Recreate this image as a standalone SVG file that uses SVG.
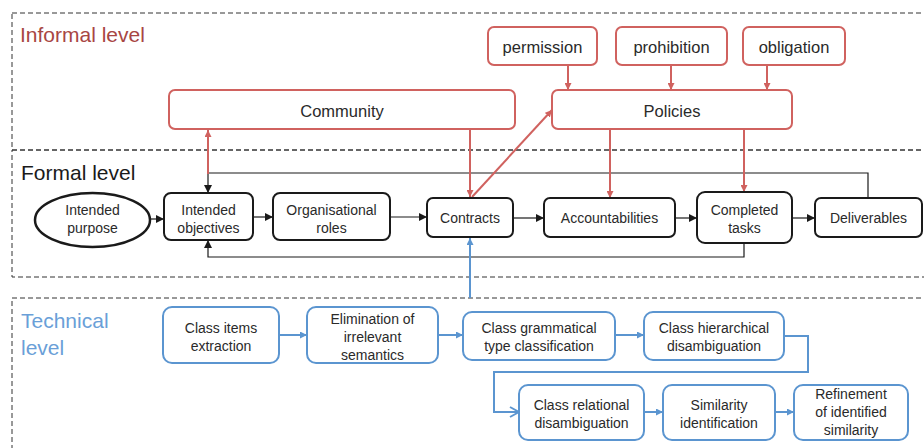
<svg xmlns="http://www.w3.org/2000/svg" width="924" height="448" viewBox="0 0 924 448">
<defs>
<style>
.t{font-family:"Liberation Sans",Arial,sans-serif;font-size:14px;fill:#2a2a2a;text-anchor:middle}
.ti{font-family:"Liberation Sans",Arial,sans-serif;font-size:16.5px;fill:#2a2a2a;text-anchor:middle}
.title{font-family:"Liberation Sans",Arial,sans-serif;font-size:21px}
.dash{fill:none;stroke:#333;stroke-width:1;stroke-dasharray:5,3}
.rb{fill:#fff;stroke:#d0625f;stroke-width:2}
.bb{fill:#fff;stroke:#1a1a1a;stroke-width:2}
.ub{fill:#fff;stroke:#5b95d0;stroke-width:2}
.rl{fill:none;stroke:#d0625f;stroke-width:2}
.kl{fill:none;stroke:#1a1a1a;stroke-width:1.2}
.ul{fill:none;stroke:#5b95d0;stroke-width:2}
</style>
<marker id="ak" viewBox="0 0 10 10" refX="10" refY="5" markerWidth="8" markerHeight="8" markerUnits="userSpaceOnUse" orient="auto-start-reverse"><path d="M0,0 L10,5 L0,10 z" fill="#1a1a1a"/></marker>
<marker id="ar" viewBox="0 0 10 10" refX="10" refY="5" markerWidth="7" markerHeight="7" markerUnits="userSpaceOnUse" orient="auto-start-reverse"><path d="M0,0 L10,5 L0,10 z" fill="#d0625f"/></marker>
<marker id="au" viewBox="0 0 10 10" refX="10" refY="5" markerWidth="7" markerHeight="7" markerUnits="userSpaceOnUse" orient="auto-start-reverse"><path d="M0,0 L10,5 L0,10 z" fill="#5b95d0"/></marker>
<marker id="av" viewBox="0 0 12 12" refX="11" refY="6" markerWidth="12" markerHeight="12" markerUnits="userSpaceOnUse" orient="auto"><path d="M2,1 L11,6 L2,11" fill="none" stroke="#5b95d0" stroke-width="2"/></marker>
</defs>
<rect width="924" height="448" fill="#fff"/>

<g id="levels">
<rect class="dash" x="12" y="13" width="930" height="137"/>
<rect class="dash" x="12" y="150" width="930" height="127"/>
<rect class="dash" x="12" y="298" width="930" height="170"/>
<text class="title" x="20" y="42" fill="#a84643" font-size="22.2">Informal level</text>
<text class="title" x="21" y="180" fill="#1a1a1a">Formal level</text>
<text class="title" x="21" y="328" fill="#6a9fd8">Technical</text>
<text class="title" x="21" y="355" fill="#6a9fd8">level</text>
</g>

<g id="connectors">
<line class="kl" x1="150" y1="219" x2="164" y2="219" marker-end="url(#ak)"/>
<line class="kl" x1="253" y1="217" x2="273" y2="217" marker-end="url(#ak)"/>
<line class="kl" x1="390" y1="217" x2="427" y2="217" marker-end="url(#ak)"/>
<line class="kl" x1="513" y1="218" x2="544" y2="218" marker-end="url(#ak)"/>
<line class="kl" x1="675" y1="218" x2="697" y2="218" marker-end="url(#ak)"/>
<line class="kl" x1="792" y1="218" x2="815" y2="218" marker-end="url(#ak)"/>
<polyline class="kl" points="868,198 868,173 208,173 208,193" marker-end="url(#ak)"/>
<polyline class="kl" points="744,243 744,257 208,257 208,240" marker-end="url(#ak)"/>
<line class="rl" x1="208" y1="130" x2="208" y2="174" marker-start="url(#ar)"/>
<line class="rl" x1="470" y1="130" x2="470" y2="197" marker-end="url(#ar)"/>
<line class="rl" x1="472" y1="197" x2="552" y2="110" marker-end="url(#ar)"/>
<line class="rl" x1="568" y1="65" x2="568" y2="90" marker-end="url(#ar)"/>
<line class="rl" x1="671" y1="65" x2="671" y2="90" marker-end="url(#ar)"/>
<line class="rl" x1="767" y1="65" x2="767" y2="90" marker-end="url(#ar)"/>
<line class="rl" x1="610" y1="130" x2="610" y2="198" marker-end="url(#ar)"/>
<line class="rl" x1="744" y1="130" x2="744" y2="192" marker-end="url(#ar)"/>
<line class="ul" x1="470" y1="298" x2="470" y2="238" marker-end="url(#au)"/>
<line class="ul" x1="279" y1="335" x2="307" y2="335" marker-end="url(#au)"/>
<line class="ul" x1="438" y1="335" x2="463" y2="335" marker-end="url(#au)"/>
<line class="ul" x1="615" y1="335" x2="644" y2="335" marker-end="url(#au)"/>
<polyline class="ul" points="784,336 808,336 808,372 494,372 494,412 519,412" marker-end="url(#av)"/>
<line class="ul" x1="644" y1="412" x2="663" y2="412" marker-end="url(#au)"/>
<line class="ul" x1="775" y1="412" x2="794" y2="412" marker-end="url(#au)"/>
</g>

<g id="community"><rect class="rb" x="169" y="90" width="346" height="39" rx="6"/><text class="ti" x="342" y="116.5">Community</text></g>
<g id="policies"><rect class="rb" x="552" y="90" width="240" height="39" rx="6"/><text class="ti" x="672" y="116.5">Policies</text></g>
<g id="permission"><rect class="rb" x="488" y="27" width="109" height="38" rx="6"/><text class="ti" x="542.5" y="52.5">permission</text></g>
<g id="prohibition"><rect class="rb" x="616" y="27" width="111" height="38" rx="6"/><text class="ti" x="671.5" y="52.5">prohibition</text></g>
<g id="obligation"><rect class="rb" x="743" y="27" width="102" height="38" rx="6"/><text class="ti" x="794" y="52.5">obligation</text></g>

<g id="intended-purpose"><ellipse cx="92.5" cy="220" rx="57.5" ry="27" fill="#fff" stroke="#1a1a1a" stroke-width="2.5"/><text class="t" x="92.5" y="215">Intended</text><text class="t" x="92.5" y="233">purpose</text></g>
<g id="intended-objectives"><rect class="bb" x="164" y="193" width="89" height="47" rx="7"/><text class="t" x="208.5" y="215">Intended</text><text class="t" x="208.5" y="233">objectives</text></g>
<g id="organisational-roles"><rect class="bb" x="273" y="193" width="117" height="47" rx="7"/><text class="t" x="331.5" y="215">Organisational</text><text class="t" x="331.5" y="233">roles</text></g>
<g id="contracts"><rect class="bb" x="427" y="198" width="86" height="39" rx="6"/><text class="t" x="470" y="223">Contracts</text></g>
<g id="accountabilities"><rect class="bb" x="544" y="198" width="131" height="39" rx="6"/><text class="t" x="609.5" y="223">Accountabilities</text></g>
<g id="completed-tasks"><rect class="bb" x="697" y="192" width="95" height="51" rx="8" stroke-width="2.5"/><text class="t" x="744.5" y="215">Completed</text><text class="t" x="744.5" y="233">tasks</text></g>
<g id="deliverables"><rect class="bb" x="815" y="198" width="107" height="39" rx="6"/><text class="t" x="868.5" y="223">Deliverables</text></g>

<g id="class-items"><rect class="ub" x="163" y="307" width="116" height="56" rx="9"/><text class="t" x="221" y="333">Class items</text><text class="t" x="221" y="351">extraction</text></g>
<g id="elimination"><rect class="ub" x="307" y="307" width="131" height="56" rx="9"/><text class="t" x="372.5" y="324">Elimination of</text><text class="t" x="372.5" y="342">irrelevant</text><text class="t" x="372.5" y="360">semantics</text></g>
<g id="grammatical"><rect class="ub" x="463" y="312" width="152" height="48" rx="9"/><text class="t" x="539" y="333">Class grammatical</text><text class="t" x="539" y="351">type classification</text></g>
<g id="hierarchical"><rect class="ub" x="644" y="312" width="140" height="48" rx="9"/><text class="t" x="714" y="333">Class hierarchical</text><text class="t" x="714" y="351">disambiguation</text></g>
<g id="relational"><rect class="ub" x="519" y="385" width="125" height="55" rx="9"/><text class="t" x="581.5" y="410">Class relational</text><text class="t" x="581.5" y="428">disambiguation</text></g>
<g id="similarity"><rect class="ub" x="663" y="385" width="112" height="55" rx="9"/><text class="t" x="719" y="410">Similarity</text><text class="t" x="719" y="428">identification</text></g>
<g id="refinement"><rect class="ub" x="794" y="385" width="114" height="55" rx="9"/><text class="t" x="851" y="399">Refinement</text><text class="t" x="851" y="417">of identified</text><text class="t" x="851" y="435">similarity</text></g>
</svg>
